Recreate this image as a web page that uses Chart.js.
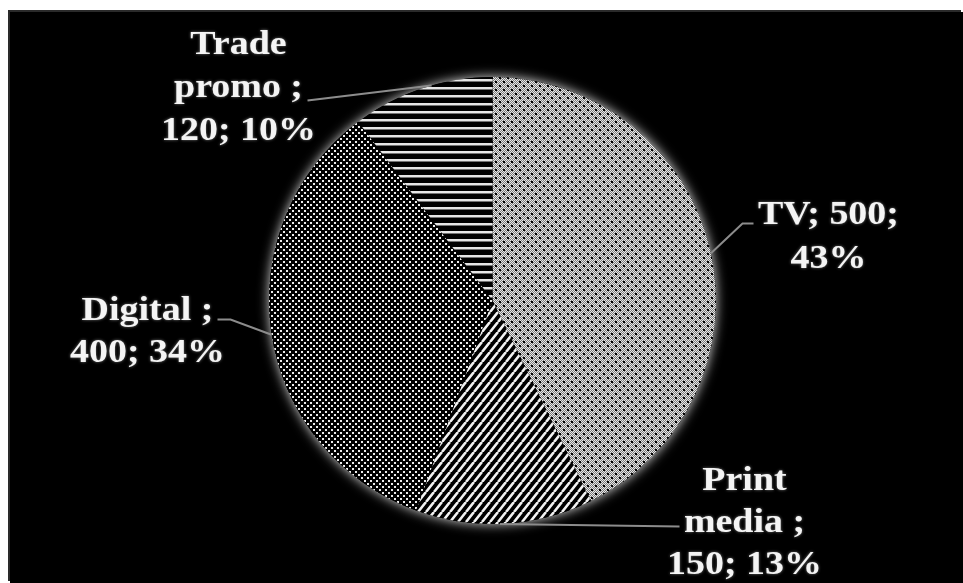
<!DOCTYPE html>
<html>
<head>
<meta charset="utf-8">
<script src="https://cdn.jsdelivr.net/npm/chart.js@4.4.0/dist/chart.umd.min.js"></script>
<style>
  html, body { margin: 0; padding: 0; background: #fff; overflow: hidden; }
  .marco {
    position: absolute; left: 10px; top: 12px;
    width: 953px; height: 571px;
    background: #000;
    box-shadow: -2px -2px 0 #2a2a2a;
  }
  canvas { display: block; }
</style>
</head>
<body>
<div class="marco"><canvas id="graficoMedios" width="953" height="571"></canvas></div>
<script>
// =======================
// DATOS
// =======================
const categorias = ["TV", "Print media", "Digital", "Trade promo"];
const valores = [500, 150, 400, 120];

// como se parte cada etiqueta en renglones (nombre ; valor ; %)
const renglones = [
  (c, v, p) => [`${c}; ${v};`, `${p}%`],
  (c, v, p) => ["Print", "media ;", `${v}; ${p}%`],
  (c, v, p) => [`${c} ;`, `${v}; ${p}%`],
  (c, v, p) => ["Trade", "promo ;", `${v}; ${p}%`]
];

// posicion de etiquetas y guias, relativa al centro del pie
const disposicion = [
  { angulo: 77.8,  guia: [[250, -77], [261, -77]],  texto: [336, -77], alto: 44 },
  { angulo: 178.1, guia: [[187, 226]],              texto: [252, 189], alto: 42 },
  { angulo: 261.2, guia: [[-262, 19], [-275, 19]],  texto: [-345, 19], alto: 42 },
  { angulo: 344.2, guia: [[-185, -200]],            texto: [-254, -247], alto: 43 }
];

// =======================
// TRAMAS
// =======================
const lienzo = document.getElementById("graficoMedios");
const ctxBase = lienzo.getContext("2d");

function crearTrama(ancho, alto, dibujar) {
  const c = document.createElement("canvas");
  c.width = ancho;
  c.height = alto;
  dibujar(c.getContext("2d"));
  return ctxBase.createPattern(c, "repeat");
}

// TV: cuadricula gris fina con puntos negros
const tramaTV = crearTrama(8, 8, g => {
  g.fillStyle = "#7a7a7a";
  g.fillRect(0, 0, 8, 8);
  g.fillStyle = "#e8e8e8";
  for (let y = 0; y < 8; y++) {
    for (let x = 0; x < 8; x++) {
      if ((x + y) % 2 === 0) g.fillRect(x, y, 1, 1);
    }
  }
  g.fillStyle = "#000";
  g.fillRect(1, 1, 2, 2);
  g.fillRect(5, 5, 2, 2);
});

// Print media: rayas diagonales
const tramaPrint = crearTrama(8, 10, g => {
  g.fillStyle = "#000";
  g.fillRect(0, 0, 8, 10);
  g.strokeStyle = "#f2f2f2";
  g.lineWidth = 2.6;
  g.beginPath();
  for (let k = -1; k <= 1; k++) {
    g.moveTo(k * 8, 10);
    g.lineTo(8 + k * 8, 0);
  }
  g.stroke();
});

// Digital: puntos blancos sobre negro
const tramaDigital = crearTrama(6, 6, g => {
  g.fillStyle = "#000";
  g.fillRect(0, 0, 6, 6);
  g.fillStyle = "#ececec";
  g.fillRect(0, 0, 2, 2);
  g.fillRect(3, 3, 2, 2);
});

// Trade promo: lineas horizontales
const tramaTrade = crearTrama(8, 8, g => {
  g.fillStyle = "#000";
  g.fillRect(0, 0, 8, 8);
  g.fillStyle = "#e6e6e6";
  g.fillRect(0, 3, 8, 2.5);
});

// =======================
// PLUGINS
// =======================
const brillo = {
  id: "brillo",
  beforeDatasetsDraw(chart) {
    const arco = chart.getDatasetMeta(0).data[0];
    const ctx = chart.ctx;
    ctx.save();
    ctx.shadowColor = "rgba(255,255,255,0.85)";
    ctx.shadowBlur = 12;
    ctx.fillStyle = "#000";
    ctx.beginPath();
    ctx.arc(arco.x, arco.y, arco.outerRadius, 0, Math.PI * 2);
    ctx.fill();
    ctx.restore();
  }
};

const etiquetas = {
  id: "etiquetas",
  afterDatasetsDraw(chart) {
    const ctx = chart.ctx;
    const arcos = chart.getDatasetMeta(0).data;
    const total = valores.reduce((a, b) => a + b, 0);

    arcos.forEach((arco, i) => {
      const d = disposicion[i];
      const ang = (d.angulo - 90) * Math.PI / 180;
      const cx = arco.x, cy = arco.y;

      // guia
      ctx.save();
      ctx.strokeStyle = "#8c8c8c";
      ctx.lineWidth = 2;
      ctx.beginPath();
      ctx.moveTo(cx + Math.cos(ang) * arco.outerRadius, cy + Math.sin(ang) * arco.outerRadius);
      d.guia.forEach(p => ctx.lineTo(cx + p[0], cy + p[1]));
      ctx.stroke();
      ctx.restore();

      // texto
      const pct = Math.round(valores[i] / total * 100);
      const lineas = renglones[i](categorias[i], valores[i], pct);
      ctx.save();
      ctx.font = "bold 33px 'Liberation Serif', 'Times New Roman', serif";
      ctx.fillStyle = "#f4f4f4";
      ctx.textAlign = "center";
      ctx.textBaseline = "alphabetic";
      ctx.shadowColor = "rgba(200,200,200,0.6)";
      ctx.shadowBlur = 3;
      lineas.forEach((txt, k) => {
        ctx.save();
        ctx.translate(cx + d.texto[0], cy + d.texto[1] + k * d.alto);
        ctx.scale(1.15, 1);
        ctx.fillText(txt, 0, 0);
        ctx.restore();
      });
      ctx.restore();
    });
  }
};

// =======================
// GRAFICO
// =======================
new Chart(lienzo, {
  type: "pie",
  data: {
    labels: categorias,
    datasets: [{
      data: valores,
      backgroundColor: [tramaTV, tramaPrint, tramaDigital, tramaTrade],
      borderWidth: 0
    }]
  },
  options: {
    responsive: false,
    animation: false,
    events: [],
    layout: { padding: { left: 259, right: 247, top: 65, bottom: 59 } },
    plugins: {
      legend: { display: false },
      tooltip: { enabled: false }
    }
  },
  plugins: [brillo, etiquetas]
});
</script>
</body>
</html>
